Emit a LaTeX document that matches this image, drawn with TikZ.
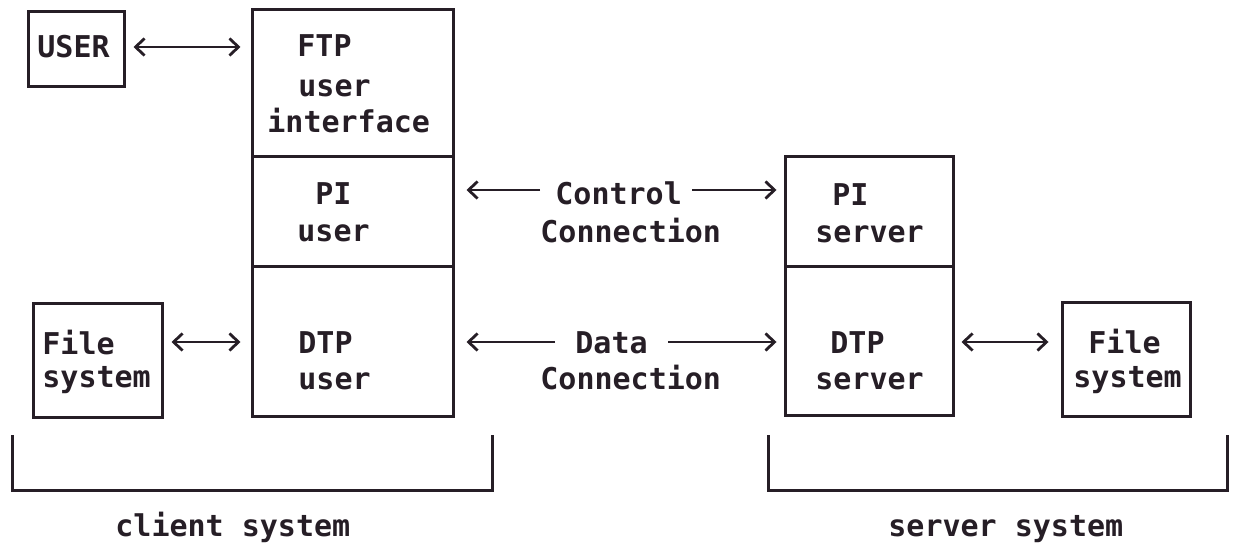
\documentclass[tikz,border=0pt]{standalone}
\usepackage{fontspec}
\setmonofont{DejaVu Sans Mono}
\usetikzlibrary{fit,arrows.meta}
\definecolor{ink}{RGB}{38,30,38}
\begin{document}
\begin{tikzpicture}[x=0.5pt,y=-0.5pt,
  box/.style={draw=ink,line width=1.5pt,inner sep=0pt},
  txt/.style={inner sep=0pt,anchor=base west,text=ink,font=\ttfamily\bfseries\fontsize{15}{18}\selectfont},
  both/.style={draw=ink,line width=1.4pt,{Straight Barb[length=4.5pt,width=8.5pt]}-{Straight Barb[length=4.5pt,width=8.5pt]}},
  single/.style={draw=ink,line width=1.4pt,-{Straight Barb[length=4.5pt,width=8.5pt]}},
  brk/.style={draw=ink,line width=1.5pt}]
\useasboundingbox (0,0) rectangle (1234,544);
% boxes
\node[box,fit={(28,12) (124,87)}] (user) {};
\node[box,fit={(252,10) (453,157)}] (ftp) {};
\node[box,fit={(252,157) (453,267)}] (piuser) {};
\node[box,fit={(252,267) (453,416)}] (dtpuser) {};
\node[box,fit={(33,304) (162,417)}] (fsc) {};
\node[box,fit={(785,157) (953,267)}] (piserver) {};
\node[box,fit={(785,267) (953,415)}] (dtpserver) {};
\node[box,fit={(1062,303) (1190,416)}] (fss) {};
% texts
\node[txt] (tUser) at (37,58) {USER};
\node[txt] (tFtp1) at (297,57) {FTP};
\node[txt] (tFtp2) at (298,97) {user};
\node[txt] (tFtp3) at (267,133) {interface};
\node[txt] (tPiu1) at (315,205) {PI};
\node[txt] (tPiu2) at (297,242) {user};
\node[txt] (tDtu1) at (298,354) {DTP};
\node[txt] (tDtu2) at (298,389) {user};
\node[txt] (tFsc1) at (42,355) {File};
\node[txt] (tFsc2) at (42,387) {system};
\node[txt] (tPis1) at (832,206) {PI};
\node[txt] (tPis2) at (815,243) {server};
\node[txt] (tDts1) at (830,354) {DTP};
\node[txt] (tDts2) at (815,389) {server};
\node[txt] (tFss1) at (1088,354) {File};
\node[txt] (tFss2) at (1073,387) {system};
\node[txt] (ctl) at (555,205) {Control};
\node[txt] (ctl2) at (540,243) {Connection};
\node[txt] (dat) at (575,354) {Data};
\node[txt] (dat2) at (540,389) {Connection};
\node[txt] (csys) at (115,536) {client system};
\node[txt] (ssys) at (888,536) {server system};
% connector levels
\coordinate (yU) at (0,47);
\coordinate (yC) at (0,190);
\coordinate (yD) at (0,342);
% connectors
\draw[both,shorten <=4pt,shorten >=5pt] (user.east |- yU) -- (ftp.west |- yU);
\draw[both,shorten <=4pt,shorten >=5pt] (fsc.east |- yD) -- (dtpuser.west |- yD);
\draw[both,shorten <=3.5pt,shorten >=6pt] (dtpserver.east |- yD) -- (fss.west |- yD);
\draw[single,shorten <=7.5pt,shorten >=6pt] (ctl.west |- yC) -- (piuser.east |- yC);
\draw[single,shorten <=5pt,shorten >=3.5pt] (ctl.east |- yC) -- (piserver.west |- yC);
\draw[single,shorten <=10pt,shorten >=6pt] (dat.west |- yD) -- (dtpuser.east |- yD);
\draw[single,shorten <=10pt,shorten >=3.5pt] (dat.east |- yD) -- (dtpserver.west |- yD);
% brackets
\coordinate (cbl) at (12,435);
\coordinate (cbr) at (492,435);
\coordinate (sbl) at (768,435);
\coordinate (sbr) at (1227,435);
\draw[brk] (cbl) -- ++(0,55) -| (cbr);
\draw[brk] (sbl) -- ++(0,55) -| (sbr);
\end{tikzpicture}
\end{document}
